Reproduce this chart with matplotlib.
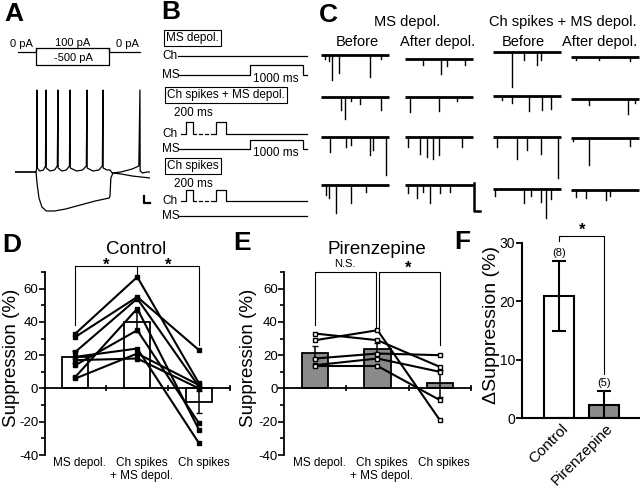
import matplotlib
matplotlib.use('Agg')
import matplotlib.pyplot as plt
from matplotlib.ticker import MultipleLocator

plt.rcParams['font.family'] = ['Liberation Sans', 'DejaVu Sans']
plt.rcParams['axes.unicode_minus'] = False

W, H = 640, 491
GRAY = '#8a8a8a'

# ---------------- data ----------------
# A: membrane potential (ms, mV)
dep_t = [-284, 0, 8, 13, 16, 50, 100, 128, 135, 138, 190, 250, 288, 297, 300,
         350, 410, 452, 460, 463, 550, 630, 680, 689, 692, 770, 850, 897, 905, 908,
         960, 1000, 1030, 1150, 1300, 1390, 1405, 1408, 1440, 1500, 1541]
dep_v = [-60, -60, -56, 22, -56, -59, -58, -54, 22, -56, -59, -58, -54, 22, -56,
         -59, -58, -54, 22, -56, -59, -58, -54, 22, -56, -59, -58, -54, 22, -56,
         -58, -58, -61, -60, -57, -54, 22, -59, -61, -60, -60]
hyp_t = [-284, 0, 15, 40, 80, 140, 250, 400, 600, 800, 990, 1000, 1012, 1040, 1150, 1300, 1541]
hyp_v = [-60, -60, -72, -86, -95, -99, -99, -97, -93, -89, -86, -84, -66, -61, -62, -64, -66]

# C: sEPSC events per trace, time (ms) and amplitude (pA)
# rows x [Before, After depol. (MS depol.), Before, After depol. (Ch spikes + MS depol.)]
c_evt_t = [
    [[64, 123, 163, 271, 714, 887], [270, 527, 616, 887], [281, 453, 650, 700], [74, 419, 862]],
    [[296, 360, 443, 567, 887], [74, 493, 764], [133, 281, 527, 724, 847], [271, 837, 936]],
    [[133, 369, 443, 714, 764, 951], [49, 222, 320, 419, 507, 837], [59, 355, 502, 700, 956], [25, 271, 862]],
    [[74, 123, 222, 443, 665], [49, 172, 271, 369, 517, 665], [34, 453, 552, 700, 773, 847], [74, 222, 517, 567]],
]
c_evt_a = [
    [[3, 4, 18, 13, 16, 3], [4, 11, 5, 4], [25, 6, 9, 6], [2, 2, 3]],
    [[9, 16, 3, 5, 9], [11, 10, 3], [3, 5, 11, 10, 9], [4, 11, 3]],
    [[11, 7, 6, 13, 9, 27], [7, 12, 14, 16, 13, 7], [7, 16, 9, 12, 29], [2, 19, 6]],
    [[7, 9, 20, 13, 5], [6, 9, 5, 13, 6, 5], [5, 10, 5, 9, 21, 7], [5, 6, 7, 4]],
]

# D / E: suppression (%) per cell
cats = ['MS depol.', 'Ch spikes\n+ MS depol.', 'Ch spikes']
ctrl_ms = [33, 31, 22, 19, 17, 14, 7, 6]
ctrl_chms = [67, 55, 54, 24, 18, 35, 48, 21]
ctrl_ch = [3, 23, 1, -33, 0, -21, -25, 2]
ctrl_mean = [19, 40, -8]
ctrl_sem = [3.4, 6.1, 6.5]

pir_ms = [33, 29, 18, 14, 13.5]
pir_chms = [29, 35, 21, 18, 13.5]
pir_ch = [13, -19, 20, 10, -7]
pir_mean = [21.5, 24, 3]
pir_sem = [4, 3.5, 8]

# F: delta suppression
groups = ['Control', 'Pirenzepine']
delta_mean = [21, 2.3]
delta_sem = [6, 2.4]
n_cells = [8, 5]

# ---------------- figure ----------------
fig = plt.figure(figsize=(W / 100, H / 100), dpi=100)


def px_axes(x0, y0, x1, y1):
    return fig.add_axes([x0 / W, 1 - y1 / H, (x1 - x0) / W, (y1 - y0) / H])


ov = fig.add_axes([0, 0, 1, 1])
ov.set_xlim(0, W)
ov.set_ylim(H, 0)
ov.axis('off')

# panel letters
for lab, x, y in [('A', 4, 14), ('B', 161, 12), ('C', 319, 15), ('D', 2, 245), ('E', 233, 243), ('F', 454, 242)]:
    ov.text(x, y, lab, fontsize=19, fontweight='bold', va='center', ha='left')

# titles and significance marks
ov.text(136, 254, 'Control', fontsize=13.5, ha='center', va='baseline')
ov.text(377, 254, 'Pirenzepine', fontsize=13.5, ha='center', va='baseline')
star = dict(fontsize=12, fontweight='bold', ha='center', va='top')
ov.text(106, 258, '*', **star)
ov.text(168, 258, '*', **star)
ov.text(408, 261, '*', **star)
ov.text(582, 223, '*', **star)
ov.text(345, 264, 'N.S.', fontsize=8, ha='center', va='center')

# ---- A: stimulus schematic
ov.plot([18, 36, 36, 109, 109, 140], [52, 52, 48, 48, 52, 52], color='k', lw=0.9)
ov.plot([36, 36, 109, 109], [48, 65, 65, 48], color='k', lw=0.9)
ov.text(21, 44, '0 pA', fontsize=8, ha='center', va='center')
ov.text(73, 43, '100 pA', fontsize=8, ha='center', va='center')
ov.text(73, 58, '-500 pA', fontsize=8, ha='center', va='center')
ov.text(127, 44, '0 pA', fontsize=8, ha='center', va='center')

axA = px_axes(15, 85, 150, 215)
axA.set_xlim(-284, 1541)
axA.set_ylim(-103, 27)
axA.axis('off')
axA.plot(hyp_t, hyp_v, color='k', lw=0.9)
axA.plot(dep_t, dep_v, color='k', lw=0.9)
axA.plot([1460, 1460, 1540], [-84, -91, -91], color='k', lw=1.6, clip_on=False)

# ---- B: protocols
tk = dict(fontsize=8.5, va='center', ha='left')
box = dict(boxstyle='square,pad=0.2', fc='white', ec='k', lw=0.8)
ov.text(166, 38, 'MS depol.', bbox=box, **tk)
ov.text(162, 56, 'Ch', **tk)
ov.text(162, 75, 'MS', **tk)
ov.plot([178, 307], [56, 56], color='k', lw=0.9)
ov.plot([178, 250, 250, 303, 303, 307], [75, 75, 65, 65, 75, 75], color='k', lw=0.9)
ov.text(276, 79, '1000 ms', fontsize=8.5, ha='center', va='center')

ov.text(167, 95, 'Ch spikes + MS depol.', bbox=box, **tk)
ov.text(193, 113, '200 ms', fontsize=8.5, ha='center', va='center')
for yb, yt, ym in [(134, 122, 149), (201, 190, 216)]:
    ov.text(162, yb, 'Ch', **tk)
    ov.text(162, ym, 'MS', **tk)
    ov.plot([181, 186, 186, 193, 193, 196], [yb, yb, yt, yt, yb, yb], color='k', lw=0.9)
    ov.plot([199, 202], [yb, yb], color='k', lw=0.9)
    ov.plot([205, 208], [yb, yb], color='k', lw=0.9)
    ov.plot([211, 216, 216, 226, 226, 307], [yb, yb, yt, yt, yb, yb], color='k', lw=0.9)
ov.plot([178, 250, 250, 303, 303, 307], [149, 149, 140, 140, 149, 149], color='k', lw=0.9)
ov.text(276, 153, '1000 ms', fontsize=8.5, ha='center', va='center')
ov.text(167, 166, 'Ch spikes', bbox=box, **tk)
ov.text(193, 184, '200 ms', fontsize=8.5, ha='center', va='center')
ov.plot([178, 307], [216, 216], color='k', lw=0.9)

# ---- C: example traces
ov.text(407, 22, 'MS depol.', fontsize=10.5, ha='center', va='center')
ov.text(563, 22, 'Ch spikes + MS depol.', fontsize=10.5, ha='center', va='center')
for x, s in [(357, 'Before'), (438, 'After depol.'), (523, 'Before'), (600, 'After depol.')]:
    ov.text(x, 42, s, fontsize=10.5, ha='center', va='center')
px_ms = 68 / 1000
px_pA = 1.4
col_x = [321, 405, 493, 571]
row_y = [[55, 59, 52, 57], [97, 97, 96, 99], [137, 137, 137, 138], [185, 185, 189, 190]]
for r in range(4):
    for c in range(4):
        x0, y0 = col_x[c], row_y[r][c]
        ov.plot([x0, x0 + 68], [y0, y0], color='k', lw=2.0, solid_capstyle='butt')
        for t, a in zip(c_evt_t[r][c], c_evt_a[r][c]):
            ov.plot([x0 + t * px_ms] * 2, [y0, y0 + a * px_pA], color='k', lw=1.0)
# scale bar 20 pA / 100 ms
ov.plot([473.5, 473.5, 473.5 + 100 * px_ms], [211 - 20 * px_pA, 211, 211], color='k', lw=1.8)


# ---- D / E
def paired_panel(ax, ms, chms, ch, mean, sem, color, mfc):
    x = [0, 1, 2]
    ax.set_facecolor('none')
    ax.bar(x, mean, width=0.42, color=color, edgecolor='k', lw=1.3, zorder=2)
    ax.errorbar(x, mean, yerr=sem, fmt='none', ecolor='k', elinewidth=1.1, capsize=2.5, zorder=3)
    for a, b, c in zip(ms, chms, ch):
        ax.plot(x, [a, b, c], '-s', color='k', lw=1.5, ms=3.2, mfc=mfc, mec='k', mew=1.0, zorder=4)
    ax.set_xlim(-0.5, 2.5)
    ax.set_ylim(-40, 70)
    for s in ['top', 'right']:
        ax.spines[s].set_visible(False)
    ax.spines['bottom'].set_position(('data', 0))
    ax.spines['left'].set_linewidth(1.3)
    ax.spines['bottom'].set_linewidth(1.3)
    ax.yaxis.set_major_locator(MultipleLocator(20))
    ax.yaxis.set_minor_locator(MultipleLocator(10))
    ax.tick_params(axis='y', which='major', length=4, width=1.2, labelsize=9.5, pad=0.5)
    ax.tick_params(axis='y', which='minor', length=3, width=1.2)
    ax.set_xticks([0.5, 1.5, 2.5])
    ax.set_xticklabels([])
    ax.tick_params(axis='x', direction='inout', length=4, width=1.2)
    for i, lab in enumerate(cats):
        ax.text(i + 0.07, -41, lab, fontsize=8.5, ha='center', va='top', linespacing=1.1)
    ax.set_ylabel('Suppression (%)', fontsize=13.5)


axD = px_axes(44.5, 272, 230, 455)
paired_panel(axD, ctrl_ms, ctrl_chms, ctrl_ch, ctrl_mean, ctrl_sem, 'white', 'k')
axD.yaxis.set_label_coords((20 - 44.5) / 185.5, 0.53)
axD.plot([0, 0, 2, 2], [38, 73.6, 73.6, 26], color='k', lw=0.8, clip_on=False)
axD.plot([1, 1], [73.6, 68.5], color='k', lw=0.8, clip_on=False)

axE = px_axes(284, 272, 471, 455)
paired_panel(axE, pir_ms, pir_chms, pir_ch, pir_mean, pir_sem, GRAY, 'white')
axE.yaxis.set_label_coords((257 - 284) / 187, 0.53)
axE.plot([0, 0, 0.97, 0.97], [38, 70, 70, 37], color='k', lw=0.8, clip_on=False)
axE.plot([1.03, 1.03, 2, 2], [37, 70, 70, 26], color='k', lw=0.8, clip_on=False)

# ---- F
axF = px_axes(522, 243, 640, 418)
axF.set_facecolor('none')
axF.bar([0, 1], delta_mean, width=0.67, color=['white', GRAY], edgecolor='k', lw=1.5, zorder=2)
axF.errorbar([0, 1], delta_mean, yerr=delta_sem, fmt='none', ecolor='k', elinewidth=1.5, capsize=5,
             capthick=1.5, zorder=3)
axF.set_xlim(-0.82, 1.8)
axF.set_ylim(0, 30)
for s in ['top', 'right']:
    axF.spines[s].set_visible(False)
axF.spines['left'].set_linewidth(1.5)
axF.spines['bottom'].set_linewidth(1.5)
axF.yaxis.set_major_locator(MultipleLocator(10))
axF.tick_params(axis='y', length=4, width=1.3, labelsize=10, pad=1)
axF.set_xticks([])
for i, g in enumerate(groups):
    axF.text(i + 0.26, -0.6, g, fontsize=11, rotation=45, ha='right', va='top')
    axF.text(i, delta_mean[i] + delta_sem[i] + 0.4, '(%d)' % n_cells[i], fontsize=8, ha='center', va='bottom')
axF.set_ylabel('\u0394Suppression (%)', fontsize=14)
axF.yaxis.set_label_coords((500 - 522) / 118, 0.53)
axF.plot([0, 0, 1, 1], [30.3, 31.2, 31.2, 7.6], color='k', lw=0.8, clip_on=False)

fig.savefig('out.png', dpi=100)
